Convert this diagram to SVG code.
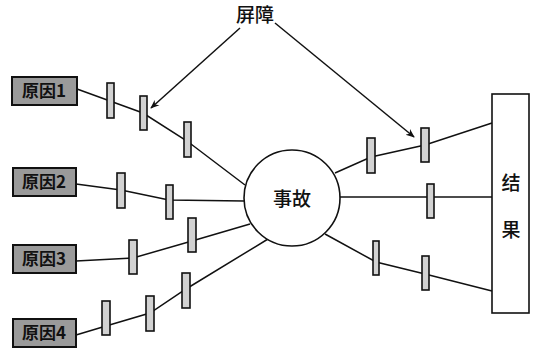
<svg xmlns="http://www.w3.org/2000/svg" width="535" height="351" viewBox="0 0 535 351">
  <style>
    .cause rect { fill: #9a9a9a; stroke: #111; stroke-width: 2; }
    .cause text { font-family: "Noto Sans CJK SC", "Liberation Sans", sans-serif; font-size: 17px; font-weight: 700; fill: #111; }
    .bar { fill: #d2d2d2; stroke: #111; stroke-width: 1.6; }
    .wire { fill: none; stroke: #111; stroke-width: 1.5; }
    .lbl { font-family: "Noto Sans CJK SC", "Liberation Sans", sans-serif; font-size: 19px; font-weight: 500; fill: #111; }
  </style>
  <defs>
    <marker id="arrow" viewBox="0 0 10 10" refX="9" refY="5" markerWidth="9" markerHeight="9" orient="auto-start-reverse" markerUnits="userSpaceOnUse">
      <path d="M0,1 L10,5 L0,9 L3,5 Z" fill="#111"/>
    </marker>
  </defs>

  <rect width="535" height="351" fill="#fff"/>

  <!-- connectors -->
  <g id="connectors" class="wire">
    <polyline points="77,89 110,101 143,113 187,141 245,185"/>
    <polyline points="76,184 121,190 169,200 244,201"/>
    <polyline points="76,261 133,258 192,241 250,224"/>
    <polyline points="76,335 106,326 150,313 186,289 268,239"/>
    <polyline points="335,173 371,157 425,145 492,123"/>
    <line x1="340" y1="197" x2="492" y2="197"/>
    <polyline points="325,234 376,262 425,274 492,291"/>
    <line x1="240" y1="28" x2="151" y2="108" marker-end="url(#arrow)"/>
    <line x1="275" y1="23" x2="414" y2="137" marker-end="url(#arrow)"/>
  </g>

  <!-- barriers -->
  <g id="barriers">
    <rect class="bar" x="107" y="83" width="7" height="35"/>
    <rect class="bar" x="140" y="96" width="7" height="34"/>
    <rect class="bar" x="184" y="122" width="7" height="35"/>
    <rect class="bar" x="117" y="173" width="8" height="35"/>
    <rect class="bar" x="166" y="185" width="7" height="34"/>
    <rect class="bar" x="129" y="240" width="8" height="34"/>
    <rect class="bar" x="188" y="218" width="8" height="34"/>
    <rect class="bar" x="102" y="301" width="8" height="34"/>
    <rect class="bar" x="146" y="296" width="8" height="35"/>
    <rect class="bar" x="182" y="273" width="8" height="35"/>
    <rect class="bar" x="367" y="138" width="8" height="35"/>
    <rect class="bar" x="421" y="128" width="8" height="34"/>
    <rect class="bar" x="427" y="184" width="7" height="34"/>
    <rect class="bar" x="373" y="241" width="6" height="34"/>
    <rect class="bar" x="422" y="256" width="7" height="34"/>
  </g>

  <text class="lbl" x="255" y="22" text-anchor="middle">屏障</text>

  <g id="cause1" class="cause">
    <rect x="12" y="77" width="65" height="28"/>
    <text x="44" y="97" text-anchor="middle">原因1</text>
  </g>
  <g id="cause2" class="cause">
    <rect x="13" y="168" width="63" height="28"/>
    <text x="44" y="188" text-anchor="middle">原因2</text>
  </g>
  <g id="cause3" class="cause">
    <rect x="13" y="245" width="63" height="28"/>
    <text x="44" y="265" text-anchor="middle">原因3</text>
  </g>
  <g id="cause4" class="cause">
    <rect x="13" y="319" width="63" height="28"/>
    <text x="44" y="339" text-anchor="middle">原因4</text>
  </g>

  <g id="accident">
    <circle cx="292" cy="198" r="48" fill="#fff" stroke="#111" stroke-width="1.6"/>
    <text class="lbl" x="292" y="206" text-anchor="middle">事故</text>
  </g>

  <g id="result">
    <rect x="492" y="94" width="37" height="219" fill="#fff" stroke="#111" stroke-width="1.6"/>
    <text class="lbl" x="511" y="190" text-anchor="middle">结</text>
    <text class="lbl" x="511" y="237" text-anchor="middle">果</text>
  </g>
</svg>
